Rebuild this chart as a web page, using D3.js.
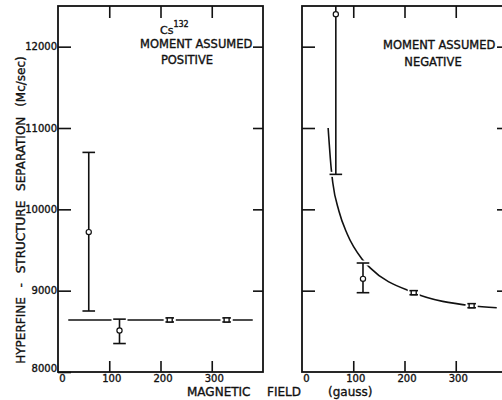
<!DOCTYPE html>
<html>
<head>
<meta charset="utf-8">
<script src="https://cdn.jsdelivr.net/npm/d3@7"></script>
<style>
  body { margin: 0; background: #fff; }
  text { font-family: "DejaVu Sans", sans-serif; fill: #111; stroke: #111; stroke-width: 0.35px; }
</style>
</head>
<body>
<div id="chart"></div>
<script>
// magnetic field (gauss) and hfs separation (Mc/sec)
var fieldTicks = [0, 100, 200, 300];
var valueTicks = [8000, 9000, 10000, 11000, 12000];

// moment assumed positive
var posField = [60, 120, 218, 329];
var posValue = [9720, 8510, 8640, 8640];
var posLow   = [8750, 8350, 8615, 8615];
var posHigh  = [10700, 8650, 8665, 8665];
var posMark  = ["circle", "circle", "square", "square"];
var posLineField = [20, 380];
var posLineValue = [8640, 8640];

// moment assumed negative
var negField = [66, 119, 218, 331];
var negValue = [12400, 9145, 8975, 8815];
var negLow   = [10430, 8975, 8950, 8790];
var negHigh  = [12650, 9340, 9000, 8840];
var negMark  = ["circle", "circle", "square", "square"];
var negCurveField = [51, 57, 60, 72, 88, 117, 133, 218, 331, 380];
var negCurveValue = [11000, 10500, 10330, 9980, 9700, 9390, 9280, 8975, 8815, 8790];

var svg = d3.select("#chart")
  .append("svg")
    .attr("width", 502)
    .attr("height", 400);

var yTop = 6, yBottom = 372;
var y = d3.scaleLinear()
  .domain([8000, 12500])
  .range([yBottom, yTop]);

function drawPanel(x0, x1, id, showValues) {
  var x = d3.scaleLinear()
    .domain([0, 400])
    .range([x0, x1]);
  var g = svg.append("g");

  g.append("clipPath").attr("id", id)
    .append("rect")
      .attr("x", x0).attr("y", yTop)
      .attr("width", x1 - x0).attr("height", yBottom - yTop);

  // bottom ticks + labels
  var bx = g.append("g")
    .attr("transform", "translate(0," + yBottom + ")")
    .call(d3.axisBottom(x).tickValues(fieldTicks).tickSize(-11).tickPadding(3).tickFormat(d3.format("d")));
  // top ticks
  var tx = g.append("g")
    .attr("transform", "translate(0," + yTop + ")")
    .call(d3.axisTop(x).tickValues([100, 200, 300]).tickSize(-12).tickFormat(""));
  // left ticks
  var lx = g.append("g")
    .attr("transform", "translate(" + x0 + ",0)")
    .call(d3.axisLeft(y).tickValues(showValues ? valueTicks : valueTicks.slice(1)).tickSize(-13).tickPadding(1)
      .tickFormat(showValues ? d3.format("d") : ""));
  // right ticks
  var rx = g.append("g")
    .attr("transform", "translate(" + x1 + ",0)")
    .call(d3.axisRight(y).tickValues(valueTicks.slice(1)).tickSize(-10).tickFormat(""));

  [bx, tx, lx, rx].forEach(function(a) {
    a.select(".domain").remove();
    a.selectAll("line").attr("stroke", "#111").attr("stroke-width", 1.6);
    a.selectAll("text").attr("font-size", 10).attr("font-family", "DejaVu Sans").attr("fill", "#111");
  });
  bx.selectAll(".tick").filter(function(d) { return d === 0; }).select("line").remove();
  bx.selectAll("text").attr("dx", function(d) { return d === 0 ? 4 : 2; });
  lx.selectAll("text").filter(function(d) { return d === 8000; }).attr("dy", "-0.1em");

  // frame
  g.append("rect")
    .attr("x", x0).attr("y", yTop)
    .attr("width", x1 - x0).attr("height", yBottom - yTop)
    .attr("fill", "none")
    .attr("stroke", "#111")
    .attr("stroke-width", 1.8);

  var plot = g.append("g").attr("clip-path", "url(#" + id + ")");
  return { x: x, plot: plot };
}

function drawPoints(p, field, value, low, high, mark) {
  var x = p.x;
  var pts = p.plot.selectAll(".pt")
    .data(field.map(function(f, i) { return i; }))
    .enter()
    .append("g")
      .attr("class", "pt");

  // white halo cuts the fitted line where it meets a cap
  ["#fff", "#111"].forEach(function(col, k) {
    var w = k === 0 ? 5 : 1.6;
    if (k === 1) {
      pts.append("line")
        .attr("x1", function(i) { return x(field[i]); })
        .attr("x2", function(i) { return x(field[i]); })
        .attr("y1", function(i) { return y(low[i]); })
        .attr("y2", function(i) { return y(high[i]); })
        .attr("stroke", col).attr("stroke-width", w);
    }
    [high, low].forEach(function(arr) {
      pts.append("line")
        .attr("x1", function(i) { return x(field[i]) - (mark[i] === "square" ? 3.5 : 5.5); })
        .attr("x2", function(i) { return x(field[i]) + (mark[i] === "square" ? 3.5 : 5.5); })
        .attr("y1", function(i) { return y(arr[i]); })
        .attr("y2", function(i) { return y(arr[i]); })
        .attr("stroke", col).attr("stroke-width", w).attr("stroke-linecap", "square");
    });
  });

  pts.filter(function(i) { return mark[i] === "square"; })
    .append("rect")
      .attr("x", function(i) { return x(field[i]) - 2.5; })
      .attr("y", function(i) { return y(high[i]); })
      .attr("width", 5)
      .attr("height", function(i) { return y(low[i]) - y(high[i]); })
      .attr("fill", "#fff")
      .attr("stroke", "#111")
      .attr("stroke-width", 1.4);

  pts.filter(function(i) { return mark[i] === "circle"; })
    .append("circle")
      .attr("cx", function(i) { return x(field[i]); })
      .attr("cy", function(i) { return y(value[i]); })
      .attr("r", 2.6)
      .attr("fill", "#fff")
      .attr("stroke", "#111")
      .attr("stroke-width", 1.2);
}

// left panel
var left = drawPanel(58, 263, "clipPos", true);
left.plot.append("path")
  .datum(posLineField.map(function(f, i) { return [f, posLineValue[i]]; }))
  .attr("fill", "none")
  .attr("stroke", "#111")
  .attr("stroke-width", 1.5)
  .attr("d", d3.line()
    .x(function(d) { return left.x(d[0]); })
    .y(function(d) { return y(d[1]); }));
drawPoints(left, posField, posValue, posLow, posHigh, posMark);

// right panel
var right = drawPanel(302, 507, "clipNeg", false);
right.plot.append("path")
  .datum(negCurveField.map(function(f, i) { return [f, negCurveValue[i]]; }))
  .attr("fill", "none")
  .attr("stroke", "#111")
  .attr("stroke-width", 1.6)
  .attr("d", d3.line()
    .curve(d3.curveMonotoneX)
    .x(function(d) { return right.x(d[0]); })
    .y(function(d) { return y(d[1]); }));
drawPoints(right, negField, negValue, negLow, negHigh, negMark);

// annotations
var cs = svg.append("text").attr("x", 160).attr("y", 34).attr("font-size", 11);
cs.append("tspan").text("Cs");
cs.append("tspan").attr("font-size", 8).attr("dy", -7).text("132");

svg.append("text").attr("x", 140).attr("y", 48).attr("font-size", 11.5).text("MOMENT  ASSUMED");
svg.append("text").attr("x", 187).attr("y", 64).attr("font-size", 11.5).attr("text-anchor", "middle").text("POSITIVE");
svg.append("text").attr("x", 383).attr("y", 49).attr("font-size", 11.5).text("MOMENT  ASSUMED");
svg.append("text").attr("x", 433).attr("y", 66).attr("font-size", 11.5).attr("text-anchor", "middle").text("NEGATIVE");

// axis titles
svg.append("text")
  .attr("transform", "translate(25,210) rotate(-90)")
  .attr("text-anchor", "middle")
  .attr("font-size", 12)
  .attr("word-spacing", 6)
  .text("HYPERFINE - STRUCTURE SEPARATION (Mc/sec)");

var xt = svg.append("text").attr("y", 396).attr("font-size", 12);
xt.append("tspan").attr("x", 187).text("MAGNETIC");
xt.append("tspan").attr("x", 267).text("FIELD");
xt.append("tspan").attr("x", 328).text("(gauss)");
</script>
</body>
</html>
